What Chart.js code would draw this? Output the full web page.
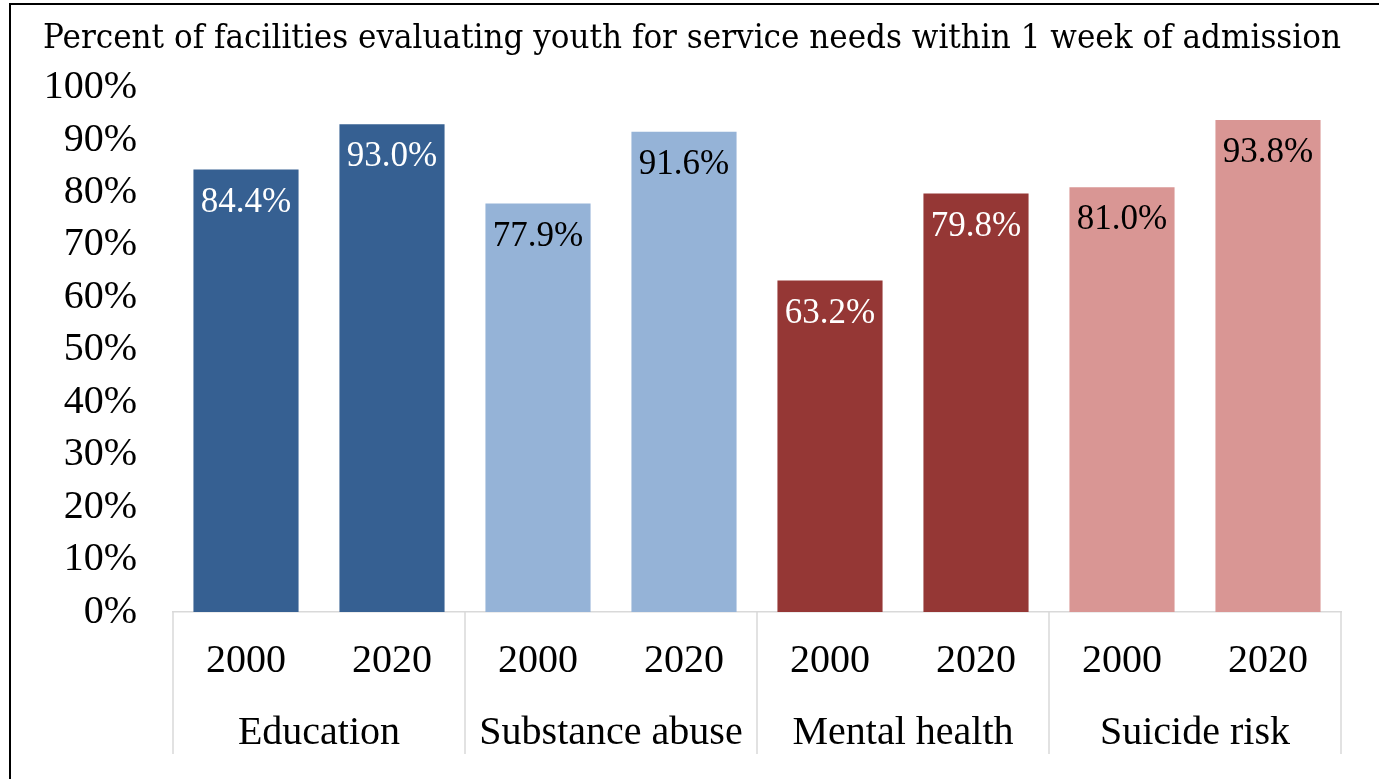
<!DOCTYPE html>
<html lang="en">
<head>
  <meta charset="UTF-8">
  <title>Chart</title>
  <style>
    html, body { margin: 0; padding: 0; background: #fff; overflow: hidden; }
  </style>
</head>
<body>
  <div>
    <canvas id="myChart" width="1379" height="779"></canvas>
  </div>

  <script src="https://cdn.jsdelivr.net/npm/chart.js"></script>
  <script>
    const years = ['2000', '2020', '2000', '2020', '2000', '2020', '2000', '2020']
    const groups = ['Education', 'Substance abuse', 'Mental health', 'Suicide risk']
    const values = [84.4, 93.0, 77.9, 91.6, 63.2, 79.8, 81.0, 93.8]
    const barColors = ['#366092', '#366092', '#95b3d7', '#95b3d7', '#953735', '#953735', '#d99694', '#d99694']
    const labelColors = ['#fff', '#fff', '#000', '#000', '#fff', '#fff', '#000', '#000']
    const yTicks = [0, 10, 20, 30, 40, 50, 60, 70, 80, 90, 100]

    const serif = 'Liberation Serif'

    // outer frame + group separators under the axis
    const frame = {
      id: 'frame',
      afterDraw(chart) {
        const ctx = chart.ctx
        const x = chart.scales.x
        const x2 = chart.scales.x2
        const area = chart.chartArea
        ctx.save()
        ctx.strokeStyle = '#d9d9d9'
        ctx.lineWidth = 1.5
        const step = (x.right - x.left) / years.length
        for (let i = 0; i <= years.length; i += 2) {
          const px = x.left + i * step
          ctx.beginPath()
          ctx.moveTo(px, area.bottom)
          ctx.lineTo(px, x2.bottom)
          ctx.stroke()
        }
        ctx.strokeStyle = '#000'
        ctx.lineWidth = 2
        ctx.beginPath()
        ctx.moveTo(10, chart.height)
        ctx.lineTo(10, 4)
        ctx.lineTo(chart.width, 4)
        ctx.stroke()
        ctx.restore()
      }
    }

    // value labels inside the top of each bar
    const barLabels = {
      id: 'barLabels',
      afterDatasetsDraw(chart) {
        const ctx = chart.ctx
        const meta = chart.getDatasetMeta(0)
        ctx.save()
        ctx.font = '35px "' + serif + '"'
        ctx.textAlign = 'center'
        ctx.textBaseline = 'middle'
        meta.data.forEach(function (bar, i) {
          ctx.fillStyle = labelColors[i]
          ctx.fillText(values[i].toFixed(1) + '%', bar.x, bar.y + 33)
        })
        ctx.restore()
      }
    }

    const data = {
      labels: years,
      datasets: [{
        data: values,
        backgroundColor: barColors,
        borderWidth: 0,
        barPercentage: 0.72,
        categoryPercentage: 1
      }]
    }

    const config = {
      type: 'bar',
      data: data,
      plugins: [frame, barLabels],
      options: {
        responsive: false,
        maintainAspectRatio: false,
        animation: false,
        layout: {
          padding: { top: 0, left: 43, right: 38, bottom: 25 }
        },
        plugins: {
          legend: { display: false },
          tooltip: { enabled: false },
          title: {
            display: true,
            text: 'Percent of facilities evaluating youth for service needs within 1 week of admission',
            color: '#000',
            font: { family: 'DejaVu Serif', size: 33, weight: 'normal', lineHeight: 1.2 },
            padding: { top: 20, bottom: 28 }
          }
        },
        scales: {
          x: {
            afterFit(scale) { scale.height = 72 },
            grid: { display: false, drawTicks: false },
            border: { display: true, color: '#d9d9d9', width: 1.5 },
            ticks: {
              color: '#000',
              font: { family: serif, size: 40, lineHeight: 1.2 },
              padding: 25,
              maxRotation: 0,
              autoSkip: false
            }
          },
          x2: {
            type: 'category',
            labels: groups,
            offset: true,
            position: 'bottom',
            afterFit(scale) { scale.height = 70 },
            grid: { display: false, drawTicks: false },
            border: { display: false },
            ticks: {
              color: '#000',
              font: { family: serif, size: 40, lineHeight: 1.2 },
              padding: 25,
              maxRotation: 0,
              autoSkip: false
            }
          },
          y: {
            min: 0,
            max: 100,
            afterFit(scale) { scale.width = 130 },
            afterBuildTicks(scale) { scale.ticks = yTicks.map(v => ({ value: v })) },
            grid: { display: false, drawTicks: false },
            border: { display: false },
            ticks: {
              color: '#000',
              font: { family: serif, size: 40 },
              padding: 36,
              autoSkip: false,
              callback: v => v + '%'
            }
          }
        }
      }
    }

    const myChart = new Chart(document.getElementById('myChart'), config)
  </script>
</body>
</html>
